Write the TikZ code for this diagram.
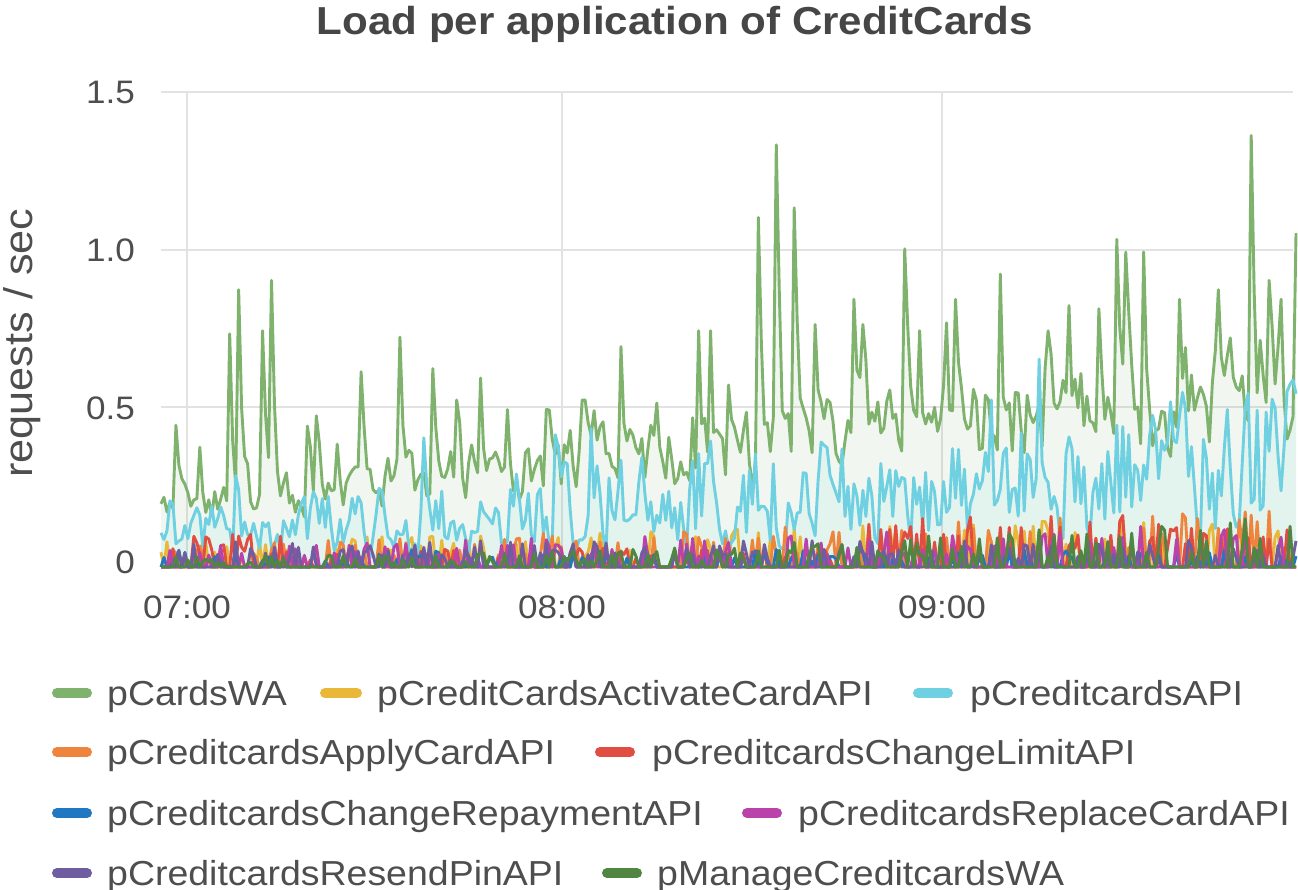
\documentclass[tikz,border=0pt]{standalone}
\usepackage{fontspec}
\setmainfont{Liberation Sans}[FakeStretch=1.08]

% Series palette
\definecolor{sGreen}{HTML}{7EB26D}
\definecolor{sYellow}{HTML}{EAB839}
\definecolor{sCyan}{HTML}{6ED0E0}
\definecolor{sOrange}{HTML}{EF843C}
\definecolor{sRed}{HTML}{E24D42}
\definecolor{sBlue}{HTML}{1F78C1}
\definecolor{sMagenta}{HTML}{BA43A9}
\definecolor{sPurple}{HTML}{705DA0}
\definecolor{sDkGreen}{HTML}{508642}
\definecolor{labeltext}{HTML}{4E4E4E}
\definecolor{titletext}{HTML}{464646}
\definecolor{gridc}{HTML}{E2E2E2}

\newcommand\nPts{380}

\makeatletter
% fixed sample: series #1, index #2, value #3
\newcommand\peakat[3]{\expandafter\xdef\csname pk@#1@#2\endcsname{#3}}
% build series #1 from seed #2, target expression #3 (uses \tpos), smoothing #4
\newcommand\mkseries[4]{%
  \pgfmathsetseed{#2}%
  \gdef\ser@v{0}%
  \gdef\ser@list{}%
  \foreach \k in {0,...,\nPts}{%
    \pgfmathsetmacro\tpos{\k/\nPts}%
    \ifcsname pk@#1@\k\endcsname
      \edef\nv{\csname pk@#1@\k\endcsname}%
    \else
      \pgfmathsetmacro\target{#3}%
      \pgfmathsetmacro\nv{#4*\ser@v+(1-#4)*\target}%
    \fi
    \xdef\ser@v{\nv}%
    \xdef\ser@list{\ser@list(\tpos,\nv)}%
  }%
  \expandafter\global\expandafter\let\csname data@#1\endcsname\ser@list
}
\newcommand\drawseries[2]{%
  \edef\ser@cmd{\noexpand\draw[#1] plot coordinates {\csname data@#2\endcsname};}\ser@cmd}
\newcommand\fillseries[2]{%
  \edef\ser@cmd{\noexpand\fill[#1] (0,0) -- plot coordinates {\csname data@#2\endcsname} -- (1,0) -- cycle;}\ser@cmd}
\makeatother

\tikzset{
  gridline/.style={gridc, line width=1.4pt},
  serline/.style={line width=2.9pt, line join=round},
  serfill/.style={opacity=0.1},
  ticklabel/.style={text=labeltext, inner sep=0pt, font=\fontsize{32.5}{38}\selectfont},
  legtext/.style={text=labeltext, inner sep=0pt, anchor=base west, font=\fontsize{34.7}{40}\selectfont},
  swatch/.style={line width=10pt, line cap=round},
}

\begin{document}%
% hand-placed spikes of the two busy series
\foreach \i/\v in {5/0.45, 13/0.38, 23/0.74, 26/0.88, 34/0.75, 37/0.91, 52/0.48, 59/0.39,
  67/0.62, 80/0.73, 91/0.63, 99/0.53, 107/0.6, 116/0.5, 129/0.5, 141/0.53, 154/0.7,
  164/0.45, 180/0.75, 184/0.75, 200/1.11, 206/1.34, 212/1.14, 219/0.77, 232/0.85,
  235/0.77, 249/1.01, 254/0.75, 266/0.85, 281/0.93, 297/0.75, 304/0.83, 314/0.82,
  320/1.04, 323/1.0, 329/1.0, 341/0.85, 354/0.88, 365/1.37, 371/0.91, 375/0.85, 380/1.06}%
  {\peakat{g}{\i}{\v}}%
\foreach \i/\v in {3/0.21, 25/0.29, 88/0.41, 132/0.42, 144/0.44, 180/0.36, 184/0.4,
  278/0.53, 294/0.66, 320/0.45, 357/0.5, 378/0.58, 380/0.55}%
  {\peakat{c}{\i}{\v}}%
\mkseries{g}{11}{(0.2+0.36*\tpos)*(0.55+0.9*rnd)+(rnd>0.86)*0.3*rnd}{0.4}%
\mkseries{y}{23}{(rnd<0.25)*(0.06+0.06*\tpos)*(0.4+rnd)}{0}%
\mkseries{c}{37}{(0.1+0.2*\tpos)*(0.15+2*pow(rnd,1.3))}{0.3}%
\mkseries{o}{41}{(rnd<0.25)*(0.05+0.08*\tpos)*(0.4+rnd)}{0}%
\mkseries{r}{53}{(rnd<0.33)*(0.04+0.07*(\tpos>0.62)+0.03*(\tpos<0.12))*(0.5+rnd)}{0}%
\mkseries{b}{67}{(rnd<0.3)*0.04*(0.4+rnd)}{0}%
\mkseries{m}{71}{(rnd<0.28)*(0.05+0.05*\tpos)*(0.4+rnd)}{0}%
\mkseries{p}{83}{(rnd<0.33)*0.06*(0.4+rnd)}{0}%
\mkseries{d}{97}{(rnd<0.33)*(0.025+0.1*\tpos*\tpos)*(0.4+rnd)}{0}%
\begin{tikzpicture}[x=1pt, y=-1pt]
\useasboundingbox (0,0) rectangle (1298,890);
\fill[white] (0,0) rectangle (1298,890);

% title
\node[anchor=base, inner sep=0pt, text=titletext, font=\bfseries\fontsize{39}{44}\selectfont]
  (title) at (675,35) {Load per application of CreditCards};

% grid
\foreach \yy in {92,250,407} \draw[gridline] (161,\yy) -- (1293,\yy);
\foreach \xx in {187,562,942} \draw[gridline] (\xx,92) -- (\xx,567);

% axis labels
\node[ticklabel, anchor=base east] (y15) at (135,104) {1.5};
\node[ticklabel, anchor=base east] (y10) at (135,262) {1.0};
\node[ticklabel, anchor=base east] (y05) at (135,419) {0.5};
\node[ticklabel, anchor=base east] (y00) at (135,573) {0};
\node[ticklabel, anchor=base] (x07) at (187,618) {07:00};
\node[ticklabel, anchor=base] (x08) at (562,618) {08:00};
\node[ticklabel, anchor=base] (x09) at (942,618) {09:00};
\node[rotate=90, anchor=base, inner sep=0pt, text=labeltext, font=\fontsize{40}{46}\selectfont]
  (ylab) at (32,343) {requests / sec};

% series
\begin{scope}[shift={(161,567)}, x=1135pt, y=315pt]
  \fillseries{sGreen, serfill}{g}
  \fillseries{sCyan, serfill}{c}
  \drawseries{sGreen, serline}{g}
  \drawseries{sYellow, serline}{y}
  \drawseries{sCyan, serline}{c}
  \drawseries{sOrange, serline}{o}
  \drawseries{sRed, serline}{r}
  \drawseries{sBlue, serline}{b}
  \drawseries{sMagenta, serline}{m}
  \drawseries{sPurple, serline}{p}
  \drawseries{sDkGreen, serline}{d}
\end{scope}

% legend
\draw[swatch, sGreen] (57,693) -- (87,693);
\node[legtext] (lg1) at (107,705) {pCardsWA};
\draw[swatch, sYellow] (325,693) -- (357,693);
\node[legtext] (lg2) at (377,705) {pCreditCardsActivateCardAPI};
\draw[swatch, sCyan] (918,693) -- (948,693);
\node[legtext] (lg3) at (970,705) {pCreditcardsAPI};

\draw[swatch, sOrange] (57,752) -- (87,752);
\node[legtext] (lg4) at (107,764) {pCreditcardsApplyCardAPI};
\draw[swatch, sRed] (600,752) -- (630,752);
\node[legtext] (lg5) at (652,764) {pCreditcardsChangeLimitAPI};

\draw[swatch, sBlue] (57,813) -- (87,813);
\node[legtext] (lg6) at (107,825) {pCreditcardsChangeRepaymentAPI};
\draw[swatch, sMagenta] (747,813) -- (777,813);
\node[legtext] (lg7) at (798,825) {pCreditcardsReplaceCardAPI};

\draw[swatch, sPurple] (57,873) -- (87,873);
\node[legtext] (lg8) at (107,885) {pCreditcardsResendPinAPI};
\draw[swatch, sDkGreen] (607,873) -- (637,873);
\node[legtext] (lg9) at (657,885) {pManageCreditcardsWA};
\end{tikzpicture}%
\end{document}
